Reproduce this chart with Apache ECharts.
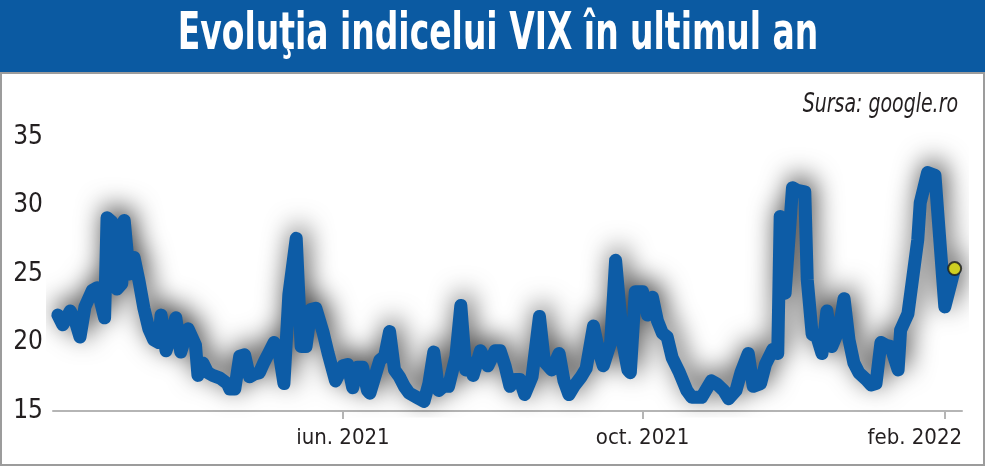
<!DOCTYPE html>
<html><head><meta charset="utf-8">
<script src="https://cdn.jsdelivr.net/npm/echarts@6/dist/echarts.min.js"></script>
<style>html,body{margin:0;padding:0;background:#fff}#c{width:1000px;height:467px}</style>
</head><body><div id="c"></div>
<script>
const TITLE = 'Evoluţia indicelui VIX în ultimul an';
const SOURCE = 'Sursa: google.ro';
const dates = [
'2021-02-05','2021-02-07','2021-02-10','2021-02-12','2021-02-14','2021-02-16','2021-02-19','2021-02-21','2021-02-24','2021-02-25',
'2021-02-27','2021-03-01','2021-03-03','2021-03-04','2021-03-06','2021-03-08','2021-03-10','2021-03-12','2021-03-14','2021-03-16',
'2021-03-18','2021-03-19','2021-03-21','2021-03-23','2021-03-25','2021-03-27','2021-03-29','2021-03-30','2021-04-01','2021-04-02',
'2021-04-03','2021-04-05','2021-04-07','2021-04-09','2021-04-12','2021-04-15','2021-04-16','2021-04-18','2021-04-20','2021-04-22',
'2021-04-24','2021-04-26','2021-04-28','2021-04-30','2021-05-02','2021-05-04','2021-05-06','2021-05-08','2021-05-10','2021-05-13',
'2021-05-15','2021-05-17','2021-05-19','2021-05-21','2021-05-24','2021-05-26','2021-05-29','2021-06-01','2021-06-03','2021-06-05',
'2021-06-07','2021-06-09','2021-06-11','2021-06-12','2021-06-16','2021-06-18','2021-06-20','2021-06-22','2021-06-24','2021-06-26',
'2021-06-28','2021-07-01','2021-07-04','2021-07-06','2021-07-08','2021-07-10','2021-07-12','2021-07-14','2021-07-17','2021-07-19',
'2021-07-21','2021-07-23','2021-07-24','2021-07-27','2021-07-30','2021-08-02','2021-08-04','2021-08-06','2021-08-08','2021-08-10',
'2021-08-12','2021-08-14','2021-08-17','2021-08-20','2021-08-22','2021-08-25','2021-08-28','2021-08-30','2021-09-01','2021-09-03',
'2021-09-06','2021-09-08','2021-09-11','2021-09-13','2021-09-15','2021-09-18','2021-09-20','2021-09-23','2021-09-25','2021-09-26',
'2021-09-28','2021-10-01','2021-10-03','2021-10-05','2021-10-07','2021-10-09','2021-10-11','2021-10-13','2021-10-16','2021-10-19',
'2021-10-21','2021-10-25','2021-10-29','2021-10-31','2021-11-03','2021-11-05','2021-11-08','2021-11-10','2021-11-13','2021-11-15',
'2021-11-18','2021-11-20','2021-11-23','2021-11-25','2021-11-26','2021-11-28','2021-12-01','2021-12-03','2021-12-06','2021-12-07',
'2021-12-09','2021-12-11','2021-12-13','2021-12-15','2021-12-17','2021-12-20','2021-12-22','2021-12-24','2021-12-26','2021-12-28',
'2021-12-31','2022-01-02','2022-01-04','2022-01-06','2022-01-08','2022-01-10','2022-01-13','2022-01-14','2022-01-17','2022-01-19',
'2022-01-21','2022-01-22','2022-01-25','2022-01-28','2022-02-01','2022-02-05'
];
const values = [
22.0,21.3,22.3,21.6,20.4,22.6,23.8,24.0,21.8,29.1,
28.8,23.9,24.3,28.9,25.0,26.2,24.5,22.5,21.0,20.2,
20.0,22.0,19.4,20.5,21.8,19.3,20.5,21.0,20.2,19.8,
17.6,18.5,17.8,17.6,17.4,17.0,16.6,16.6,19.0,19.1,
17.5,17.7,17.8,18.6,19.3,20.0,19.3,17.0,23.5,27.6,
19.7,19.7,22.4,22.5,20.7,19.2,17.2,18.3,18.4,16.7,
18.2,18.2,16.5,16.3,18.7,19.0,20.8,18.0,17.5,16.8,
16.3,16.0,15.7,17.0,19.3,16.5,16.8,16.8,19.0,22.7,
18.0,18.5,17.6,19.4,18.3,19.4,19.4,18.3,16.8,17.3,
17.3,16.2,17.5,21.9,18.6,18.0,19.2,17.2,16.2,16.8,
17.5,18.1,21.2,19.5,18.3,20.0,26.0,19.9,18.0,17.8,
23.7,23.7,22.0,23.3,21.6,20.7,20.4,18.9,17.8,16.5,
16.0,16.0,17.2,17.0,16.5,15.9,16.5,17.8,19.2,16.8,
17.0,18.4,19.5,19.2,29.2,23.6,31.3,31.1,31.0,24.6,
20.6,20.4,19.2,22.3,19.7,21.0,23.2,20.2,18.5,17.8,
17.3,16.9,17.0,20.0,19.8,19.7,18.0,20.9,22.1,24.8,
27.5,30.2,32.4,32.2,22.6,25.4
];
const yTicks = [15, 20, 25, 30, 35];
const xTickDates = ['2021-06-01', '2021-10-01', '2022-02-01'];
const xTickLabels = ['iun. 2021', 'oct. 2021', 'feb. 2022'];
const axisMin = '2021-02-03';
const axisMax = '2022-02-08';

function ts(s) { const p = s.split('-').map(Number); return Date.UTC(p[0], p[1] - 1, p[2]); }
const tickTs = xTickDates.map(ts);
const NARROW = "'Liberation Sans Narrow', 'DejaVu Sans Condensed', 'Roboto Condensed', 'Liberation Sans', sans-serif";

const chart = echarts.init(document.getElementById('c'), null, { renderer: 'canvas' });
chart.setOption({
  animation: false,
  backgroundColor: '#ffffff',
  graphic: [
    { type: 'rect', shape: { x: 0, y: 0, width: 985, height: 72 }, style: { fill: '#0b5aa2' }, z: 0 },
    { type: 'rect', shape: { x: 1, y: 73, width: 983, height: 392 }, style: { fill: 'none', stroke: '#9c9c9c', lineWidth: 2 }, z: 0 },
    { type: 'text', x: 498, y: 35, scaleX: 0.705, style: { text: TITLE, fill: '#ffffff', font: "bold 52px " + NARROW, textAlign: 'center', textVerticalAlign: 'middle' }, z: 5 },
    { type: 'text', x: 958, y: 105, scaleX: 0.78, style: { text: SOURCE, fill: '#231f20', font: "italic 27px " + NARROW, textAlign: 'right', textVerticalAlign: 'middle' }, z: 5 }
  ],
  grid: { left: 53, right: 38, top: 137, bottom: 56, containLabel: false },
  xAxis: {
    type: 'value', min: ts(axisMin), max: ts(axisMax),
    axisLine: { show: true, lineStyle: { color: '#b5b5b5', width: 2 } },
    axisTick: { show: true, customValues: tickTs, length: 8, lineStyle: { color: '#b5b5b5', width: 2 } },
    axisLabel: {
      customValues: tickTs, margin: 16, color: '#231f20', fontSize: 22, fontFamily: NARROW,
      formatter: function (v) {
        const i = tickTs.indexOf(v);
        if (i < 0) return '';
        return i === tickTs.length - 1 ? '{last|' + xTickLabels[i] + '}' : xTickLabels[i];
      },
      rich: { last: { fontSize: 22, fontFamily: NARROW, color: '#231f20', padding: [0, 60, 0, 0] } }
    },
    splitLine: { show: false }
  },
  yAxis: {
    type: 'value', min: yTicks[0], max: yTicks[yTicks.length - 1], interval: 5,
    axisLine: { show: false }, axisTick: { show: false }, splitLine: { show: false },
    axisLabel: { color: '#231f20', fontSize: 26, fontFamily: NARROW, margin: 10 }
  },
  series: [
    {
      type: 'line', data: dates.map((d, i) => [ts(d), values[i]]), showSymbol: false, symbol: 'none',
      lineStyle: { color: '#0d5ca6', width: 13, join: 'round', cap: 'round',
        shadowColor: 'rgba(0,0,0,0.75)', shadowBlur: 26, shadowOffsetX: 3, shadowOffsetY: -6 },
      z: 3
    },
    {
      type: 'scatter', data: [[ts(dates[dates.length - 1]), values[values.length - 1]]],
      symbol: 'circle', symbolSize: 13,
      itemStyle: { color: '#ffec00', borderColor: '#1a1a1a', borderWidth: 2 }, z: 6
    }
  ]
});
</script></body></html>
